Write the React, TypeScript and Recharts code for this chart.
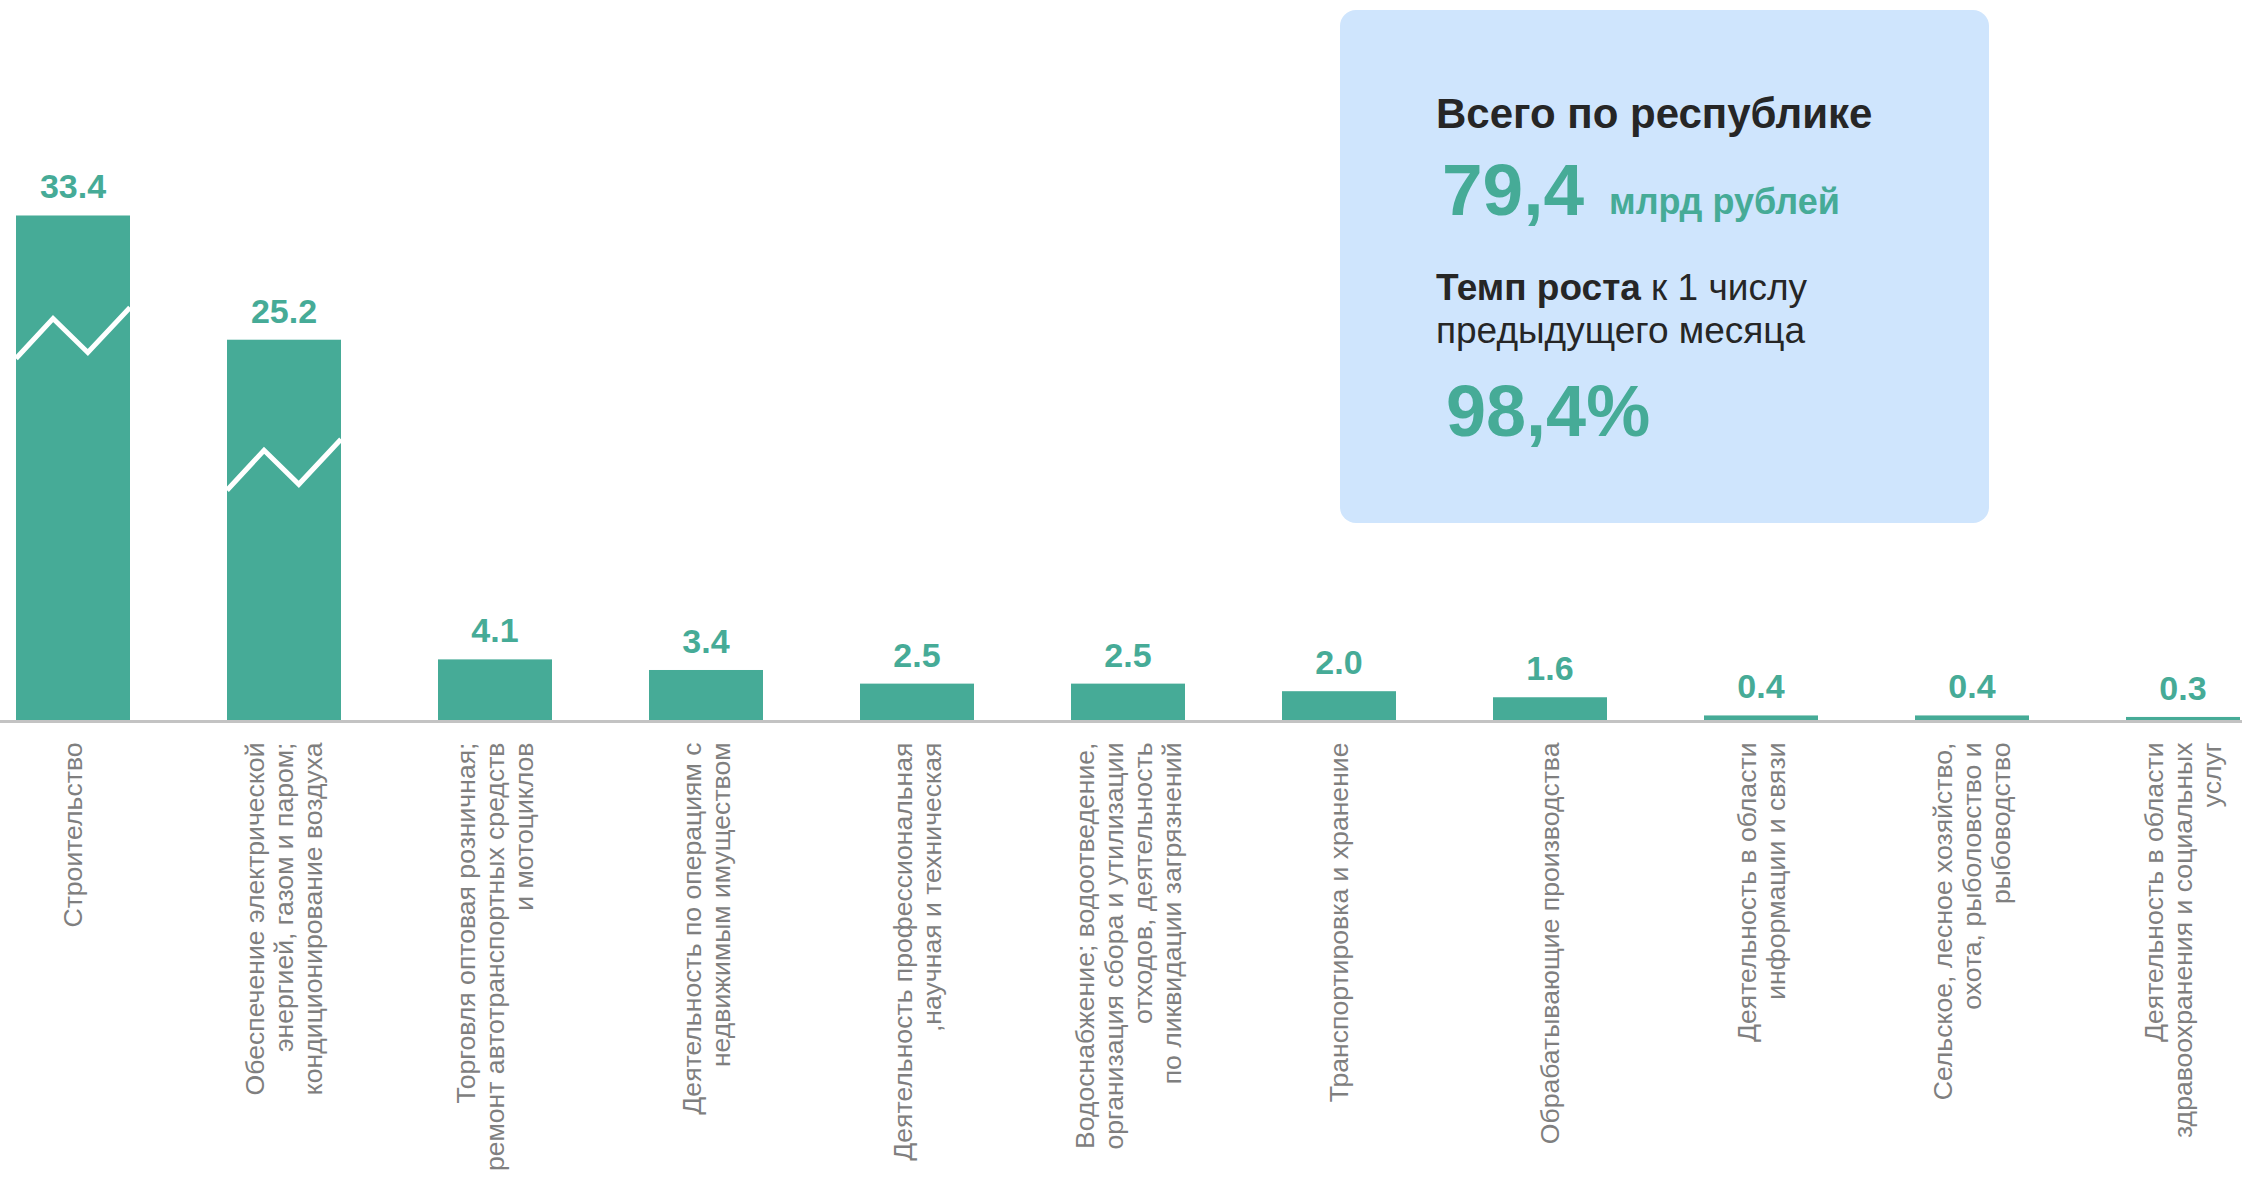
import React from "react";
import { Bar, BarChart, LabelList, XAxis, YAxis } from "recharts";

const categories: string[][] = [
  ["Строительство"],
  ["Обеспечение  электрической", "энергией, газом и паром;", "кондиционирование воздуха"],
  ["Торговля оптовая розничная;", "ремонт автотранспортных средств", "и мотоциклов"],
  ["Деятельность по операциям с", "недвижимым имуществом"],
  ["Деятельность профессиональная", ",научная и техническая"],
  ["Водоснабжение; водоотведение,", "организация сбора и утилизации", "отходов, деятельность", "по ликвидации загрязнений"],
  ["Транспортировка и хранение"],
  ["Обрабатывающие производства"],
  ["Деятельность в области", "информации и связи"],
  ["Сельское, лесное хозяйство,", "охота, рыболовство и", "рыбоводство"],
  ["Деятельность в области", "здравоохранения и социальных", "услуг"],
];

const values = [33.4, 25.2, 4.1, 3.4, 2.5, 2.5, 2.0, 1.6, 0.4, 0.4, 0.3];

// where the axis-break zigzag sits on the two tall bars
const breakAt: (number | null)[] = [26.6, 17.9, null, null, null, null, null, null, null, null, null];

const totalValue = "79,4";
const totalUnit = "млрд рублей";
const growthValue = "98,4%";

const teal = "#46ab97";
const font = "'Liberation Sans', Arial, sans-serif";

const data = categories.map((lines, i) => ({
  name: lines.join(" "),
  value: values[i],
  brk: breakAt[i],
}));

function BreakBar(props: any) {
  const { x, y, width, height, payload } = props;
  const b = payload?.brk;
  let zig = null;
  if (b != null && payload.value) {
    const py = y + height * (1 - b / payload.value);
    const pts = [
      [x, py + 40],
      [x + width * 0.325, py],
      [x + width * 0.63, py + 34],
      [x + width, py - 11],
    ]
      .map((p) => p.join(","))
      .join(" ");
    zig = <polyline points={pts} fill="none" stroke="#fff" strokeWidth={5} />;
  }
  return (
    <g>
      <rect x={x} y={y} width={width} height={height} fill={teal} />
      {zig}
    </g>
  );
}

function CategoryTick(props: any) {
  const { x, y, payload } = props;
  const lines = categories[payload.index] || [payload.value];
  const fs = 26.6;
  const lh = 29;
  const n = lines.length;
  return (
    <g transform={`translate(${x},${y + 21})`}>
      <text transform="rotate(-90)" textAnchor="end" fill="#7f7f7f" fontSize={fs} fontFamily={font}>
        {lines.map((l, i) => (
          <tspan key={i} x={0} y={(i - (n - 1) / 2) * lh + 0.36 * fs}>
            {l}
          </tspan>
        ))}
      </text>
    </g>
  );
}

export default function App() {
  return (
    <div
      style={{
        position: "fixed",
        left: 0,
        top: 0,
        width: 2242,
        height: 1177,
        overflow: "hidden",
        background: "#fff",
      }}
    >
      <div style={{ position: "absolute", left: -33.5, top: 0 }}>
        <BarChart
          width={2321}
          height={1177}
          data={data}
          margin={{ top: 115.5, right: 0, left: 0, bottom: 0 }}
          barSize={114}
        >
          <YAxis hide domain={[0, 40]} />
          <XAxis
            dataKey="name"
            interval={0}
            height={455.5}
            tickLine={false}
            tickSize={0}
            tickMargin={0}
            axisLine={{ stroke: "#c3c3c3", strokeWidth: 3 }}
            tick={<CategoryTick />}
          />
          <Bar dataKey="value" isAnimationActive={false} shape={<BreakBar />}>
            <LabelList
              dataKey="value"
              position="top"
              offset={17}
              fill={teal}
              fontSize={34}
              fontWeight="bold"
              fontFamily={font}
              formatter={(v: any) => Number(v).toFixed(1)}
            />
          </Bar>
        </BarChart>
      </div>
      <svg width={2242} height={1177} style={{ position: "absolute", left: 0, top: 0, pointerEvents: "none" }}>
        <rect x={1340} y={10} width={649} height={513} rx={16} fill="#cfe5fd" />
        <text x={1436} y={128} fontSize={42} fontWeight="bold" fill="#262626" fontFamily={font}>
          Всего по республике
        </text>
        <text x={1442} y={215} fontSize={73} fontWeight="bold" fill={teal} fontFamily={font}>
          {totalValue}
        </text>
        <text x={1609} y={214} fontSize={36} fontWeight="bold" fill={teal} fontFamily={font}>
          {totalUnit}
        </text>
        <text x={1436} y={300} fontSize={37} fill="#262626" fontFamily={font}>
          <tspan fontWeight="bold">Темп роста</tspan> к 1 числу
        </text>
        <text x={1436} y={343} fontSize={37} fill="#262626" fontFamily={font}>
          предыдущего месяца
        </text>
        <text x={1446} y={436} fontSize={72} fontWeight="bold" fill={teal} fontFamily={font}>
          {growthValue}
        </text>
      </svg>
    </div>
  );
}
